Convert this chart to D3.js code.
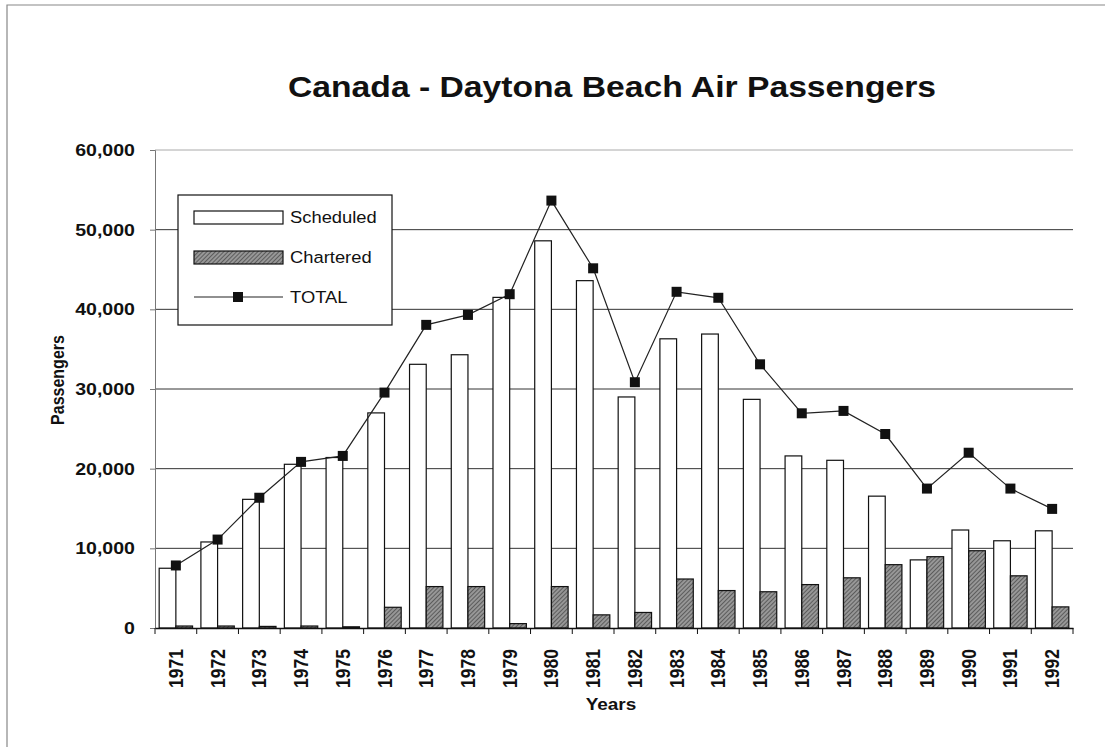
<!DOCTYPE html>
<html>
<head>
<meta charset="utf-8">
<script src="https://cdn.jsdelivr.net/npm/d3@7"></script>
<style>
  body { margin: 0; background: #fff; }
  svg { display: block; font-family: "Liberation Sans", Arial, sans-serif; }
</style>
</head>
<body>
<div class="chart"></div>
<script>
// data
const years = ["1971","1972","1973","1974","1975","1976","1977","1978","1979","1980","1981",
               "1982","1983","1984","1985","1986","1987","1988","1989","1990","1991","1992"];
const scheduled = [7500, 10800, 16150, 20550, 21400, 27000, 33100, 34300, 41500, 48600, 43600,
                   29000, 36300, 36900, 28700, 21600, 21050, 16550, 8550, 12300, 10950, 12200];
const chartered = [250, 250, 200, 250, 150, 2600, 5200, 5200, 550, 5200, 1650,
                   1950, 6150, 4700, 4550, 5450, 6300, 7950, 8950, 9700, 6550, 2650];
const total = [7850, 11100, 16350, 20850, 21600, 29550, 38050, 39300, 41900, 53650, 45150,
               30850, 42200, 41450, 33100, 26950, 27250, 24350, 17500, 22000, 17500, 14950];
const yTicks = [0, 10000, 20000, 30000, 40000, 50000, 60000];
const seriesNames = ["Scheduled", "Chartered"];

const width = 1117, height = 747;
const margin = {top: 150, right: 44, bottom: 119, left: 155};
const stretch = 1.15; // the scanned lettering is a bit wider than the font

const svg = d3.select(".chart").append("svg")
    .attr("width", width)
    .attr("height", height);

// hatched fill for the chartered bars
const pat = svg.append("defs").append("pattern")
    .attr("id", "hatch")
    .attr("patternUnits", "userSpaceOnUse")
    .attr("width", 3).attr("height", 3)
    .attr("patternTransform", "rotate(45)");
pat.append("rect").attr("width", 3).attr("height", 3).attr("fill", "#979797");
pat.append("line").attr("x1", 0).attr("y1", 0).attr("x2", 0).attr("y2", 3)
    .attr("stroke", "#3c3c3c").attr("stroke-width", 1.3);

// page frame (left and top edges of the scanned sheet)
svg.append("path")
    .attr("d", `M7,${height} V5 H1105`)
    .attr("fill", "none")
    .attr("stroke", "#888")
    .attr("stroke-width", 1.2);

const xScale = d3.scaleBand()
    .domain(years)
    .range([margin.left, width - margin.right])
    .paddingInner(0).paddingOuter(0);

const xSub = d3.scaleBand()
    .domain(seriesNames)
    .range([0, xScale.bandwidth()])
    .paddingInner(0).paddingOuter(0.25);

const yScale = d3.scaleLinear()
    .domain([0, 60000])
    .range([height - margin.bottom, margin.top]);

// gridlines
svg.append("g")
    .selectAll("line")
    .data(yTicks.filter(d => d > 0))
    .join("line")
    .attr("x1", margin.left)
    .attr("x2", width - margin.right)
    .attr("y1", d => yScale(d))
    .attr("y2", d => yScale(d))
    .attr("stroke", d => d === 60000 ? "#aaa" : "#333")
    .attr("stroke-width", 1);

// y axis
const yAxis = d3.axisLeft(yScale)
    .tickValues(yTicks)
    .tickFormat(d3.format(","))
    .tickSize(5)
    .tickPadding(12.5);

svg.append("g")
    .attr("class", "axis y-axis")
    .attr("transform", `translate(${margin.left},0)`)
    .call(yAxis)
    .call(g => g.select(".domain").attr("stroke", "#777"))
    .call(g => g.selectAll(".tick line").attr("stroke", "#777"))
    .call(g => g.selectAll(".tick text")
        .attr("font-size", 17)
        .attr("font-weight", "bold")
        .attr("fill", "#111")
        .attr("transform", `scale(${stretch},1)`)
        .attr("font-family", "Liberation Sans, Arial, sans-serif"));

// bars
const groups = svg.append("g")
    .selectAll("g")
    .data(years)
    .join("g")
    .attr("transform", d => `translate(${xScale(d)},0)`);

groups.append("rect")
    .attr("x", xSub("Scheduled"))
    .attr("width", xSub.bandwidth())
    .attr("y", (d, i) => yScale(scheduled[i]))
    .attr("height", (d, i) => yScale(0) - yScale(scheduled[i]))
    .attr("fill", "#fff")
    .attr("stroke", "#111")
    .attr("stroke-width", 1.2);

groups.append("rect")
    .attr("x", xSub("Chartered"))
    .attr("width", xSub.bandwidth())
    .attr("y", (d, i) => yScale(chartered[i]))
    .attr("height", (d, i) => yScale(0) - yScale(chartered[i]))
    .attr("fill", "url(#hatch)")
    .attr("stroke", "#111")
    .attr("stroke-width", 1.2);

// x axis
const xAxis = d3.axisBottom(xScale).tickSize(0).tickPadding(14);

const xg = svg.append("g")
    .attr("class", "axis x-axis")
    .attr("transform", `translate(0,${yScale(0)})`)
    .call(xAxis);
xg.select(".domain").attr("stroke", "#111").attr("stroke-width", 1.5);
xg.selectAll(".tick text")
    .attr("font-size", 17.5)
    .attr("font-weight", "bold")
    .attr("fill", "#111")
    .attr("font-family", "Liberation Sans, Arial, sans-serif")
    .attr("text-anchor", "end")
    .attr("dy", "0.35em")
    .attr("transform", `translate(0,21) scale(${stretch},1) rotate(-90)`)
    .attr("y", 0)
    .attr("x", 0);

// tick marks between categories
xg.append("g")
    .selectAll("line")
    .data(years.concat(["end"]))
    .join("line")
    .attr("x1", (d, i) => margin.left + i * xScale.step())
    .attr("x2", (d, i) => margin.left + i * xScale.step())
    .attr("y1", 0)
    .attr("y2", 6)
    .attr("stroke", "#111");

// total line and markers
const line = d3.line()
    .x((d, i) => xScale(years[i]) + xScale.bandwidth() / 2)
    .y(d => yScale(d));

svg.append("path")
    .datum(total)
    .attr("fill", "none")
    .attr("stroke", "#222")
    .attr("stroke-width", 1.2)
    .attr("d", line);

svg.append("g")
    .selectAll("rect")
    .data(total)
    .join("rect")
    .attr("x", (d, i) => xScale(years[i]) + xScale.bandwidth() / 2 - 5)
    .attr("y", d => yScale(d) - 5)
    .attr("width", 10)
    .attr("height", 10)
    .attr("fill", "#111");

// titles
svg.append("text")
    .attr("x", 612)
    .attr("y", 97)
    .attr("text-anchor", "middle")
    .attr("font-size", 30)
    .attr("font-weight", "bold")
    .attr("fill", "#111")
    .attr("textLength", 648)
    .attr("lengthAdjust", "spacingAndGlyphs")
    .text("Canada - Daytona Beach Air Passengers");

svg.append("text")
    .attr("transform", `translate(64,380) scale(${stretch},1) rotate(-90)`)
    .attr("text-anchor", "middle")
    .attr("font-size", 16)
    .attr("font-weight", "bold")
    .attr("fill", "#111")
    .text("Passengers");

svg.append("text")
    .attr("transform", `translate(611,710) scale(${stretch},1)`)
    .attr("text-anchor", "middle")
    .attr("font-size", 16.5)
    .attr("font-weight", "bold")
    .attr("fill", "#111")
    .text("Years");

// legend
const legend = svg.append("g").attr("transform", "translate(178,195)");
legend.append("rect")
    .attr("width", 214).attr("height", 130)
    .attr("fill", "#fff").attr("stroke", "#111").attr("stroke-width", 1.2);

legend.append("rect")
    .attr("x", 16).attr("y", 16).attr("width", 89).attr("height", 13)
    .attr("fill", "#fff").attr("stroke", "#111").attr("stroke-width", 1.2);
legend.append("rect")
    .attr("x", 16).attr("y", 56).attr("width", 89).attr("height", 13)
    .attr("fill", "url(#hatch)").attr("stroke", "#111").attr("stroke-width", 1.2);
legend.append("line")
    .attr("x1", 16).attr("x2", 105).attr("y1", 102).attr("y2", 102)
    .attr("stroke", "#222").attr("stroke-width", 1.2);
legend.append("rect")
    .attr("x", 55).attr("y", 97).attr("width", 10).attr("height", 10)
    .attr("fill", "#111");

legend.selectAll("text.lbl")
    .data(["Scheduled", "Chartered", "TOTAL"])
    .join("text")
    .attr("class", "lbl")
    .attr("transform", (d, i) => `translate(112,${22.5 + i * 40}) scale(1.08,1)`)
    .attr("dy", "0.35em")
    .attr("font-size", 17)
    .attr("fill", "#111")
    .text(d => d);
</script>
</body>
</html>
